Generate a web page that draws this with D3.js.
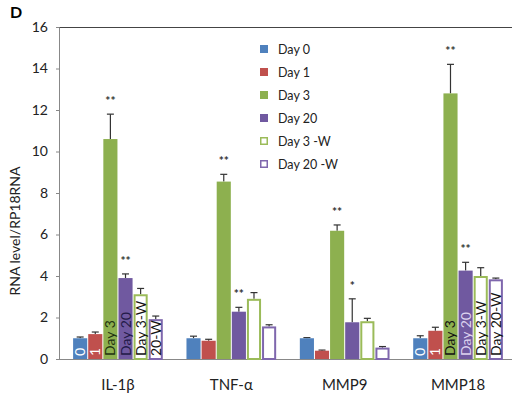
<!DOCTYPE html>
<html>
<head>
<meta charset="utf-8">
<script src="https://cdn.jsdelivr.net/npm/d3@7"></script>
<style>
  body { margin: 0; background: #fff; }
  text { font-family: Lato, "Open Sans", sans-serif; }
</style>
</head>
<body>
<div id="chart"></div>
<script>
// data
const genes = ["IL-1β", "TNF-α", "MMP9", "MMP18"];
const series = ["Day 0", "Day 1", "Day 3", "Day 20", "Day 3 -W", "Day 20 -W"];
const day0 = [1.0, 1.0, 1.0, 1.0];
const day1 = [1.2, 0.88, 0.4, 1.36];
const day3 = [10.6, 8.55, 6.18, 12.8];
const day20 = [3.9, 2.28, 1.77, 4.26];
const day3W = [3.12, 2.9, 1.82, 4.0];
const day20W = [1.92, 1.57, 0.55, 3.84];
const err0 = [0.06, 0.1, 0.03, 0.12];
const err1 = [0.1, 0.07, 0.03, 0.17];
const err3 = [1.2, 0.35, 0.28, 1.4];
const err20 = [0.2, 0.21, 1.13, 0.4];
const err3W = [0.28, 0.3, 0.14, 0.4];
const err20W = [0.15, 0.08, 0.05, 0.06];
const stars = [
  ["", "", "**", "**", "", ""],
  ["", "", "**", "**", "", ""],
  ["", "", "**", "*", "", ""],
  ["", "", "**", "**", "", ""]
];
const barLabels = [
  ["0", "1", "Day 3", "Day 20", "Day 3-W", "20-W"],
  ["", "", "", "", "", ""],
  ["", "", "", "", "", ""],
  ["0", "1", "Day 3", "Day 20", "Day 3-W", "Day 20-W"]
];
const yTicks = [0, 2, 4, 6, 8, 10, 12, 14, 16];

const colors = ["#4f81bd", "#c0504d", "#8db04f", "#7059a0", "#9bbb59", "#7f67ad"];
const hollow = [false, false, false, false, true, true];
const labelColors = [
  ["#fff", "#fff", "#1e3310", "#221a48", "#111", "#111"],
  [],
  [],
  ["#fff", "#fff", "#111", "#ddd3ef", "#111", "#111"]
];

const values = [day0, day1, day3, day20, day3W, day20W];
const errors = [err0, err1, err3, err20, err3W, err20W];

const width = 512, height = 397;
const margin = { top: 27, left: 59, bottom: 359 };

const svg = d3.select("#chart").append("svg")
  .attr("width", width)
  .attr("height", height);

const y = d3.scaleLinear().domain([0, 16]).range([margin.bottom, margin.top]);
const x0 = d3.scaleBand().domain(genes).range([margin.left, 517])
  .paddingInner(0.2).paddingOuter(0.12);
const x1 = d3.scaleBand().domain(series).range([0, x0.bandwidth()]);

// panel letter
svg.append("text").attr("x", 10).attr("y", 18)
  .attr("font-size", 16).attr("font-weight", "bold").text("D");

// top border
svg.append("line")
  .attr("x1", margin.left).attr("x2", width)
  .attr("y1", margin.top + 0.5).attr("y2", margin.top + 0.5)
  .attr("stroke", "#444").attr("stroke-width", 1.2);

// y axis
const yAxis = svg.append("g")
  .attr("transform", `translate(${margin.left},0)`)
  .call(d3.axisLeft(y).tickValues(yTicks).tickSize(3).tickPadding(8));
yAxis.select(".domain").attr("stroke", "#888");
yAxis.selectAll(".tick line").attr("stroke", "#888");
yAxis.selectAll("text").attr("font-size", 14).attr("fill", "#222")
  .style("font-family", "Lato, sans-serif");

// x axis line
svg.append("line")
  .attr("x1", margin.left).attr("x2", width)
  .attr("y1", margin.bottom + 0.5).attr("y2", margin.bottom + 0.5)
  .attr("stroke", "#888");

// y title
svg.append("text")
  .attr("transform", `translate(20,${(margin.top + margin.bottom) / 2 + 38}) rotate(-90)`)
  .attr("text-anchor", "middle")
  .attr("font-size", 14).attr("fill", "#222")
  .text("RNA level/RP18RNA");

// bars
const groups = svg.selectAll(".gene")
  .data(genes)
  .enter().append("g")
  .attr("class", "gene")
  .attr("transform", g => `translate(${x0(g)},0)`);

groups.each(function (g, gi) {
  const grp = d3.select(this);
  series.forEach((s, si) => {
    const v = values[si][gi];
    const e = errors[si][gi];
    const bx = x1(s);
    const bw = x1.bandwidth();
    const cx = bx + bw / 2;

    // error bar
    grp.append("line")
      .attr("x1", cx).attr("x2", cx)
      .attr("y1", y(v)).attr("y2", y(v + e))
      .attr("stroke", "#333").attr("stroke-width", 1.2);
    grp.append("line")
      .attr("x1", cx - 3.5).attr("x2", cx + 3.5)
      .attr("y1", y(v + e)).attr("y2", y(v + e))
      .attr("stroke", "#333").attr("stroke-width", 1.2);

    if (hollow[si]) {
      grp.append("rect")
        .attr("x", bx + 1.5).attr("y", y(v) + 1)
        .attr("width", bw - 3).attr("height", y(0) - y(v) - 1)
        .attr("fill", "#fff")
        .attr("stroke", colors[si]).attr("stroke-width", 2);
    } else {
      grp.append("rect")
        .attr("x", bx + 0.5).attr("y", y(v))
        .attr("width", bw - 1).attr("height", y(0) - y(v))
        .attr("fill", colors[si]);
    }

    // significance stars
    const st = stars[gi][si];
    if (st) {
      grp.append("text")
        .attr("x", cx).attr("y", y(v + e) - 9)
        .attr("text-anchor", "middle")
        .attr("font-size", 12).attr("font-weight", "bold").attr("fill", "#333")
        .text(st);
    }

    // in-bar labels
    const lb = barLabels[gi][si];
    if (lb) {
      grp.append("text")
        .attr("transform", `translate(${cx + 5},${y(0) - 3}) rotate(-90)`)
        .attr("font-size", 14)
        .attr("fill", labelColors[gi][si])
        .text(lb);
    }
  });
});

// x labels
svg.selectAll(".xlab")
  .data(genes)
  .enter().append("text")
  .attr("class", "xlab")
  .attr("x", g => x0(g) + x0.bandwidth() / 2)
  .attr("y", 390)
  .attr("text-anchor", "middle")
  .attr("font-size", 15).attr("fill", "#222")
  .text(g => g);

// legend
const legend = svg.append("g").attr("transform", "translate(260,49)");
series.forEach((s, i) => {
  const row = legend.append("g").attr("transform", `translate(0,${i * 23})`);
  if (hollow[i]) {
    row.append("rect").attr("x", 0.75).attr("y", -3.25).attr("width", 6.5).attr("height", 6.5)
      .attr("fill", "#fff").attr("stroke", colors[i]).attr("stroke-width", 1.5);
  } else {
    row.append("rect").attr("x", 0).attr("y", -4).attr("width", 8).attr("height", 8)
      .attr("fill", colors[i]);
  }
  row.append("text").attr("x", 18).attr("y", 4.5)
    .attr("font-size", 12.5).attr("fill", "#222").text(s);
});
</script>
</body>
</html>
